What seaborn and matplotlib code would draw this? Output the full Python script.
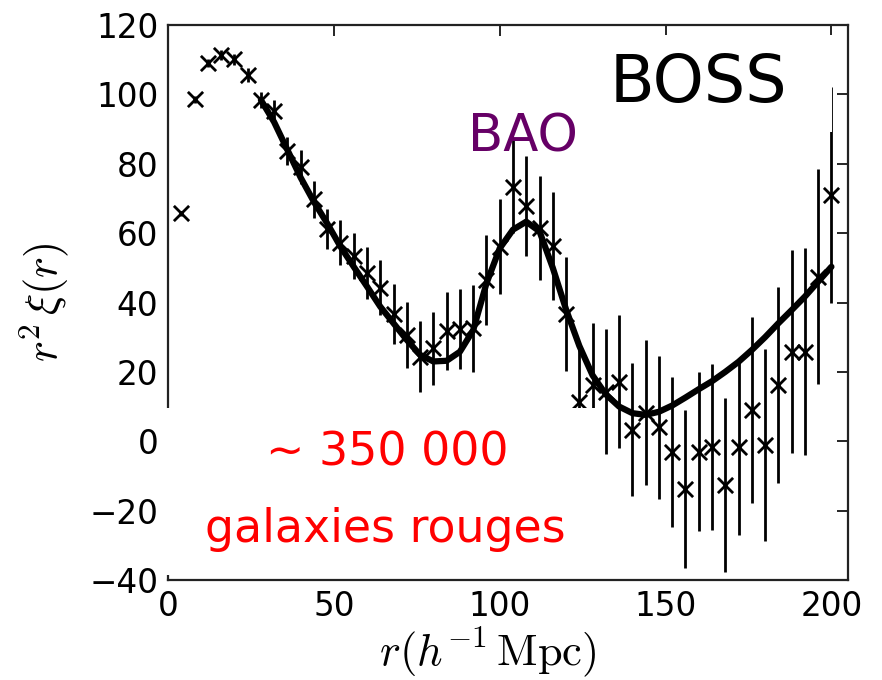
import matplotlib
matplotlib.use("Agg")
import matplotlib.pyplot as plt
import seaborn as sns
import numpy as np
from matplotlib.patches import Rectangle

# ---------------- data ----------------
r_data = [4, 8, 12, 16, 20, 24, 28, 32, 36, 40,
          44, 48, 52, 56, 60, 64, 68, 72, 76, 80,
          84, 88, 92, 96, 100, 104, 108, 112, 116, 120,
          124, 128, 132, 136, 140, 144, 148, 152, 156, 160,
          164, 168, 172, 176, 180, 184, 188, 192, 196, 200]
xi_data = [65.7, 98.6, 109.1, 111.3, 110.1, 105.6, 98.4, 95.3, 83.7, 79.1,
           69.8, 61.2, 57.2, 53.4, 48.6, 44.3, 36.6, 30.6, 24.4, 26.8,
           31.8, 32.4, 32.6, 46.5, 56.1, 73.4, 67.8, 61.4, 56.3, 36.7,
           11.4, 16.2, 14.3, 17.2, 3.3, 8.2, 4.0, -3.0, -13.8, -3.0,
           -1.6, -12.6, -1.6, 9.0, -1.1, 16.2, 25.8, 25.8, 47.4, 71.0]
xi_err = [0.8, 1.0, 1.2, 1.4, 1.6, 2.0, 2.3, 3.0, 4.0, 4.8,
          5.3, 5.8, 6.5, 6.7, 7.5, 8.0, 8.6, 9.6, 10.3, 10.6,
          11.3, 11.5, 12.5, 13.0, 13.7, 13.5, 14.4, 15.0, 15.6, 16.4,
          17.0, 17.8, 18.0, 19.2, 19.2, 20.9, 20.6, 21.6, 22.8, 23.0,
          24.0, 25.2, 25.5, 26.9, 27.8, 28.3, 29.3, 29.8, 31.0, 31.0]

r_model = [28, 32, 36, 40, 44, 48, 52, 56, 60, 64,
           68, 72, 76, 80, 84, 88, 92, 96, 100, 104,
           108, 112, 116, 120, 124, 128, 132, 136, 140, 144,
           148, 152, 156, 160, 164, 168, 172, 176, 180, 184,
           188, 192, 196, 200]
xi_model = [98.4, 92.0, 84.0, 76.0, 69.0, 62.8, 56.1, 50.3, 44.6, 38.8,
            34.0, 29.2, 24.9, 23.0, 23.2, 25.8, 32.0, 45.5, 55.6, 61.0,
            63.3, 60.5, 50.0, 38.0, 27.5, 19.0, 13.5, 10.0, 8.1, 7.6,
            8.5, 10.3, 12.6, 15.0, 17.3, 20.0, 22.9, 26.3, 30.0, 34.0,
            37.8, 41.7, 46.0, 50.3]

x_ticks = [0, 50, 100, 150, 200]
y_ticks = [-40, -20, 0, 20, 40, 60, 80, 100, 120]

# ---------------- style ----------------
sns.set_style("white")
plt.rcParams["font.family"] = ["DejaVu Sans"]
plt.rcParams["mathtext.fontset"] = "cm"

fig = plt.figure(figsize=(8.82, 6.8), dpi=100)
ax = fig.add_axes([168 / 882, 100 / 680, 680 / 882, 555 / 680])

ax.errorbar(r_data, xi_data, yerr=xi_err, fmt="none", ecolor="black",
            elinewidth=2.0, capsize=0, zorder=2)
sns.lineplot(x=r_model, y=xi_model, ax=ax, color="black", linewidth=4.5,
             zorder=3, solid_joinstyle="round", solid_capstyle="round")
sns.scatterplot(x=r_data, y=xi_data, ax=ax, marker="x", s=120,
                color="black", linewidth=2.0, zorder=4)

ax.set_xlim(0, 205)
ax.set_ylim(-40, 120)
ax.set_xticks(x_ticks)
ax.set_yticks(y_ticks)
ax.tick_params(direction="in", length=8, width=1.2, top=True, right=True,
               labelsize=23.5, pad=7, colors="black")
for s in ax.spines.values():
    s.set_linewidth(1.6)
    s.set_color("#222222")

ax.set_xlabel(r"$r(h^{-1}\,\mathrm{Mpc})$", fontsize=32, color="black")
ax.set_ylabel(r"$r^2\,\xi(r)$", fontsize=32, color="black")
ax.xaxis.set_label_coords(0.47, -0.083)
ax.yaxis.set_label_coords(-0.142, 0.5)

# ---------------- overlays ----------------
fig.add_artist(Rectangle((587 / 882, (680 - 132) / 680), 245 / 882, 97 / 680,
                         transform=fig.transFigure, facecolor="white",
                         edgecolor="none", zorder=10))
fig.text(698 / 882, 1 - 84 / 680, "BOSS", fontsize=47, color="black",
         ha="center", va="center", zorder=11)
fig.text(523 / 882, 1 - 137 / 680, "BAO", fontsize=37, color="#660066",
         ha="center", va="center", zorder=11)

fig.add_artist(Rectangle((165 / 882, (680 - 575) / 680), 432 / 882, 167 / 680,
                         transform=fig.transFigure, facecolor="white",
                         edgecolor="none", zorder=10))
fig.text(387 / 882, 1 - 453 / 680, "~ 350 000", fontsize=33, color="red",
         ha="center", va="center", zorder=11)
fig.text(385 / 882, 1 - 530 / 680, "galaxies rouges", fontsize=33, color="red",
         ha="center", va="center", zorder=11)

fig.savefig("out.png", dpi=100, facecolor="white")
